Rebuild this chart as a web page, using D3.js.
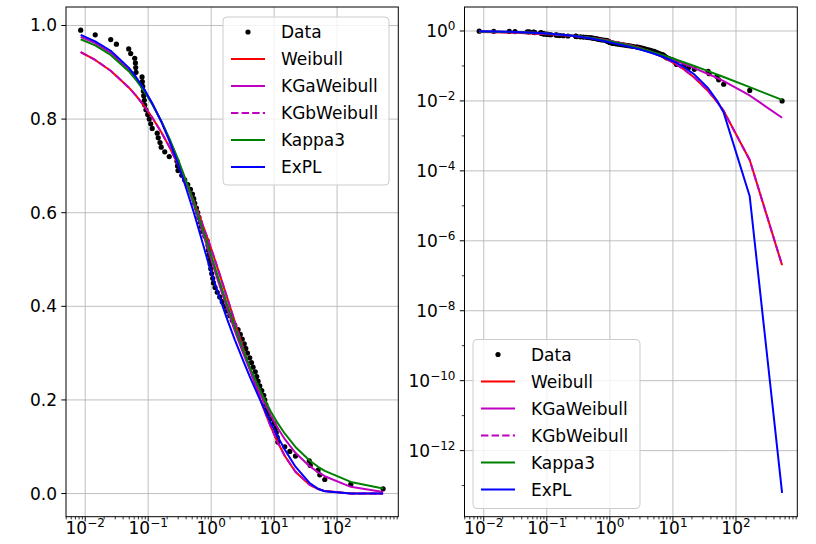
<!DOCTYPE html>
<html><head><meta charset="utf-8">
<script src="https://cdn.jsdelivr.net/npm/d3@7"></script>
<style>body{margin:0;background:#fff}</style>
</head><body><svg id="c" width="816" height="544"></svg>
<script>
// ---- data ----
const dataX = [
 0.00848, 0.01442, 0.02542, 0.0313, 0.04909, 0.05282, 0.06113, 0.06272, 0.06341, 0.06412,
 0.07987, 0.08075, 0.08193, 0.08374, 0.08497, 0.08685, 0.08814, 0.0921, 0.09837, 0.1039,
 0.1098, 0.1159, 0.1392, 0.1444, 0.1542, 0.1611, 0.1832, 0.216, 0.2872, 0.2925,
 0.2979, 0.3412, 0.3806, 0.4249, 0.469, 0.5045, 0.5291, 0.5489, 0.5841, 0.6124,
 0.640, 0.6688, 0.6988, 0.7355, 0.795, 0.867, 0.8928, 0.906, 0.9295, 0.9501,
 0.9676, 0.9855, 1.022, 1.06, 1.088, 1.153, 1.25, 1.369, 1.501, 1.645,
 1.803, 1.975, 2.164, 2.372, 2.675, 2.9, 3.12, 3.357, 3.545, 3.773,
 4.105, 4.368, 4.631, 5.017, 5.301, 5.56, 5.916, 6.366, 6.849, 7.104,
 7.369, 7.727, 8.074, 8.849, 9.872, 10.62, 10.82, 11.22, 11.43, 14.76,
 17.73, 21.83, 36.17, 37.52, 49.91, 53.12, 63.77, 165.1, 538.0];
const dataY = [
 0.99, 0.98, 0.97, 0.96, 0.95, 0.94, 0.93, 0.92, 0.91, 0.90,
 0.89, 0.88, 0.87, 0.86, 0.85, 0.84, 0.83, 0.82, 0.81, 0.80,
 0.79, 0.78, 0.77, 0.76, 0.75, 0.74, 0.73, 0.72, 0.71, 0.70,
 0.69, 0.68, 0.67, 0.66, 0.65, 0.64, 0.63, 0.62, 0.61, 0.60,
 0.59, 0.58, 0.57, 0.56, 0.55, 0.54, 0.53, 0.52, 0.51, 0.50,
 0.49, 0.48, 0.47, 0.46, 0.45, 0.44, 0.43, 0.42, 0.41, 0.40,
 0.39, 0.38, 0.37, 0.36, 0.35, 0.34, 0.33, 0.32, 0.31, 0.30,
 0.29, 0.28, 0.27, 0.26, 0.25, 0.24, 0.23, 0.22, 0.21, 0.20,
 0.19, 0.18, 0.17, 0.16, 0.15, 0.14, 0.13, 0.12, 0.11, 0.10,
 0.09, 0.08, 0.07, 0.06, 0.05, 0.04, 0.03, 0.02, 0.01];

const lineX = [0.00848, 0.0144, 0.0254, 0.0491, 0.0641, 0.0882, 0.116, 0.161, 0.216, 0.295,
 0.395, 0.529, 0.699, 0.906, 1.06, 1.37, 1.80, 2.37, 3.12, 4.11,
 5.30, 6.85, 8.85, 11.4, 14.8, 21.8, 36.2, 49.9, 63.8, 165, 538];
const weibull = [0.9431, 0.9263, 0.9032, 0.8677, 0.8501, 0.8264, 0.8034, 0.7725, 0.7412, 0.7044,
 0.6664, 0.6248, 0.5821, 0.5397, 0.5130, 0.4678, 0.4181, 0.3673, 0.3165, 0.2667,
 0.2226, 0.1809, 0.1429, 0.1097, 0.0803, 0.04666, 0.01912, 0.00954, 0.00517, 2.04e-4, 2.01e-7];
const kgaWeibull = [0.9757, 0.9625, 0.9416, 0.9055, 0.8863, 0.8594, 0.8326, 0.7957, 0.7579, 0.7133,
 0.6671, 0.6175, 0.5672, 0.5188, 0.4894, 0.443, 0.395, 0.348, 0.305, 0.264,
 0.229, 0.197, 0.167, 0.140, 0.116, 0.087, 0.059, 0.0455, 0.037, 0.0143, 0.0033];
const kgbWeibull = [0.9431, 0.9263, 0.9032, 0.8677, 0.8501, 0.8264, 0.8034, 0.7725, 0.7412, 0.7044,
 0.6664, 0.6248, 0.5821, 0.5397, 0.5130, 0.4678, 0.4181, 0.3673, 0.3165, 0.2667,
 0.2226, 0.1809, 0.1429, 0.1097, 0.0803, 0.04666, 0.01912, 0.00954, 0.00517, 2.04e-4, 2.01e-7];
const kappa3 = [0.9706, 0.9575, 0.9371, 0.9024, 0.8839, 0.8579, 0.8319, 0.7959, 0.7591, 0.7154,
 0.6704, 0.6220, 0.5733, 0.5268, 0.4983, 0.4519, 0.4034, 0.3564, 0.3120, 0.2708,
 0.2359, 0.2040, 0.1754, 0.1504, 0.1278, 0.0996, 0.0711, 0.0571, 0.0483, 0.0248, 0.01067];
const expl = [0.980, 0.966, 0.946, 0.910, 0.890, 0.862, 0.834, 0.795, 0.754, 0.706,
 0.655, 0.601, 0.545, 0.492, 0.463, 0.418, 0.372, 0.329, 0.289, 0.250,
 0.216, 0.183, 0.151, 0.122, 0.0937, 0.0574, 0.0231, 0.0103, 0.00463, 1.87e-5, 6.2e-14];

const seriesNames = ["Weibull", "KGaWeibull", "KGbWeibull", "Kappa3", "ExPL"];
const xTickVals = [1e-2, 1e-1, 1, 1e1, 1e2];
const xTickExps = ["\u22122", "\u22121", "0", "1", "2"];
const yTicksLin = [0.0, 0.2, 0.4, 0.6, 0.8, 1.0];
const yTicksLinLabels = ["0.0", "0.2", "0.4", "0.6", "0.8", "1.0"];
const yTicksLog = [1, 1e-2, 1e-4, 1e-6, 1e-8, 1e-10, 1e-12];
const yTicksLogExps = ["0", "\u22122", "\u22124", "\u22126", "\u22128", "\u221210", "\u221212"];

// ---- styles ----
const styles = {
  "Weibull":    {color: "#ff0000", dash: null},
  "KGaWeibull": {color: "#bf00bf", dash: null},
  "KGbWeibull": {color: "#bf00bf", dash: "7.4,3.2"},
  "Kappa3":     {color: "#008000", dash: null},
  "ExPL":       {color: "#0000ff", dash: null}
};
const seriesVals = {"Weibull": weibull, "KGaWeibull": kgaWeibull, "KGbWeibull": kgbWeibull, "Kappa3": kappa3, "ExPL": expl};

const FONT = '"DejaVu Sans", sans-serif';
const FS = 17;
const svg = d3.select("#c");
svg.append("rect").attr("width", 816).attr("height", 544).attr("fill", "#fff");

const axTop = 7, axBottom = 516.7;
const xDom = [Math.pow(10, -2.305), Math.pow(10, 2.972)];

function panel(opt) {
  const x = d3.scaleLog().domain(xDom).range([opt.left, opt.right]);
  const y = opt.y;
  const g = svg.append("g");
  const clipId = "clip" + opt.id;
  svg.append("clipPath").attr("id", clipId).append("rect")
    .attr("x", opt.left).attr("y", axTop).attr("width", opt.right - opt.left).attr("height", axBottom - axTop);

  const grid = g.append("g").attr("stroke", "#b0b0b0").attr("stroke-width", 0.8);
  xTickVals.forEach(v => grid.append("line").attr("x1", x(v)).attr("x2", x(v)).attr("y1", axTop).attr("y2", axBottom));
  opt.yTicks.forEach(v => grid.append("line").attr("x1", opt.left).attr("x2", opt.right).attr("y1", y(v)).attr("y2", y(v)));

  const plot = g.append("g").attr("clip-path", `url(#${clipId})`);
  plot.append("g").selectAll("circle").data(dataX.map((d, i) => [d, dataY[i]])).join("circle")
    .attr("cx", d => x(d[0])).attr("cy", d => y(d[1])).attr("r", 2.6).attr("fill", "#000");
  seriesNames.forEach(n => {
    const line = d3.line().x((d, i) => x(lineX[i])).y(d => y(d));
    plot.append("path").attr("d", line(seriesVals[n])).attr("fill", "none")
      .attr("stroke", styles[n].color).attr("stroke-width", 2)
      .attr("stroke-dasharray", styles[n].dash).attr("stroke-linejoin", "round");
  });

  g.append("rect").attr("x", opt.left).attr("y", axTop).attr("width", opt.right - opt.left).attr("height", axBottom - axTop)
    .attr("fill", "none").attr("stroke", "#000").attr("stroke-width", 1);

  const tk = g.append("g").attr("stroke", "#000").attr("stroke-width", 1);
  xTickVals.forEach(v => tk.append("line").attr("x1", x(v)).attr("x2", x(v)).attr("y1", axBottom).attr("y2", axBottom + 4.7));
  for (let e = -3; e <= 2; e++) for (let m = 2; m <= 9; m++) {
    const v = m * Math.pow(10, e);
    if (v >= xDom[0] && v <= xDom[1])
      tk.append("line").attr("x1", x(v)).attr("x2", x(v)).attr("y1", axBottom).attr("y2", axBottom + 2.7).attr("stroke-width", 0.8);
  }
  xTickVals.forEach((v, i) => {
    const t = g.append("text").attr("x", x(v)).attr("y", axBottom + 17.5).attr("text-anchor", "middle")
      .attr("font-family", FONT).attr("font-size", FS).attr("fill", "#000");
    t.append("tspan").text("10");
    t.append("tspan").attr("dy", -7).attr("font-size", 12).text(xTickExps[i]);
  });
  opt.yTicks.forEach((v, i) => {
    tk.append("line").attr("x1", opt.left - 4.7).attr("x2", opt.left).attr("y1", y(v)).attr("y2", y(v));
    opt.yLabel(g, opt.left - 9, y(v), i);
  });
  if (opt.yMinor) opt.yMinor.forEach(v => tk.append("line").attr("x1", opt.left - 2.7).attr("x2", opt.left).attr("y1", y(v)).attr("y2", y(v)).attr("stroke-width", 0.8));

  const L = opt.legend;
  const lg = g.append("g");
  lg.append("rect").attr("x", L.x).attr("y", L.y).attr("width", L.w).attr("height", L.h).attr("rx", 4)
    .attr("fill", "#fff").attr("fill-opacity", 0.8).attr("stroke", "#cccccc").attr("stroke-width", 1);
  const names = ["Data"].concat(seriesNames);
  names.forEach((n, i) => {
    const cy = L.y + 15 + i * 27;
    if (n === "Data") {
      lg.append("circle").attr("cx", L.x + 25).attr("cy", cy).attr("r", 2.6).attr("fill", "#000");
    } else {
      lg.append("line").attr("x1", L.x + 8).attr("x2", L.x + 42).attr("y1", cy).attr("y2", cy)
        .attr("stroke", styles[n].color).attr("stroke-width", 2).attr("stroke-dasharray", styles[n].dash);
    }
    lg.append("text").attr("x", L.x + 58).attr("y", cy + 6).attr("font-family", FONT).attr("font-size", FS)
      .attr("fill", "#000").text(n);
  });
}

const yLin = d3.scaleLinear().domain([-0.0495, 1.0395]).range([axBottom, axTop]);
panel({
  id: "L", left: 66, right: 398.3, y: yLin, yTicks: yTicksLin,
  yLabel: (g, xx, yy, i) => g.append("text").attr("x", xx).attr("y", yy + 6).attr("text-anchor", "end")
    .attr("font-family", FONT).attr("font-size", FS).attr("fill", "#000").text(yTicksLinLabels[i]),
  legend: {x: 223, y: 17, w: 166, h: 168}
});

const yLog = d3.scaleLog().domain([Math.pow(10, -13.89), Math.pow(10, 0.686)]).range([axBottom, axTop]);
panel({
  id: "R", left: 464.5, right: 797.3, y: yLog, yTicks: yTicksLog,
  yMinor: [1e-1, 1e-3, 1e-5, 1e-7, 1e-9, 1e-11, 1e-13],
  yLabel: (g, xx, yy, i) => {
    const t = g.append("text").attr("x", xx).attr("y", yy + 6).attr("text-anchor", "end")
      .attr("font-family", FONT).attr("font-size", FS).attr("fill", "#000");
    t.append("tspan").text("10");
    t.append("tspan").attr("dy", -7).attr("font-size", 12).text(yTicksLogExps[i]);
  },
  legend: {x: 473, y: 339.5, w: 167, h: 169}
});
</script></body></html>
